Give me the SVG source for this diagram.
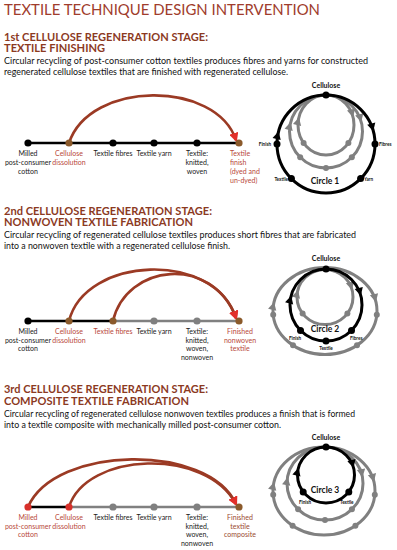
<svg xmlns="http://www.w3.org/2000/svg" xmlns:xlink="http://www.w3.org/1999/xlink" width="397" height="550" viewBox="0 0 397 550">
<style>
text{font-family:Lato,"Open Sans","Liberation Sans",sans-serif}
.title{font-size:15px;fill:#a03c2c;font-weight:400}
.head{font-size:10.5px;fill:#8c3a1f;font-weight:700}
.body{font-size:9px;fill:#111}
.lab{font-size:7px;fill:#1a1a1a;text-anchor:middle}
.red{fill:#b8483a}
.brn{fill:#9a4a30}
.cl{font-size:7px;font-weight:700;fill:#111;text-anchor:middle}
.ct{font-size:8.5px;font-weight:700;fill:#111;text-anchor:middle}
.nl{font-size:4.6px;font-weight:700;fill:#111}
.tl{stroke-width:2.6;fill:none}
.k{stroke:#000}
.g{stroke:#808080}
.arc{stroke:#9b3a24;stroke-width:2.6;fill:none;marker-end:url(#ah)}
.dk{fill:#000}
.dg{fill:#808080}
.db{fill:#8b5a2b}
.dr{fill:#d8302a}
.ck{stroke:#000;stroke-width:3;fill:none}
.cg{stroke:#808080;stroke-width:3;fill:none}
</style>
<defs>
<marker id="ah" markerWidth="3.6" markerHeight="3.6" refX="4.5" refY="3" orient="auto" markerUnits="strokeWidth" viewBox="0 0 6 6">
<path d="M0,0 L6,3 L0,6 Z" fill="#e2302a"/>
</marker>
<path id="tri" d="M0,0 L-8,-4.2 L-8,4.2 Z"/>
</defs>

<text class="title" x="4" y="15" textLength="316" lengthAdjust="spacingAndGlyphs">TEXTILE TECHNIQUE DESIGN INTERVENTION</text>

<!-- Section 1 -->
<g id="section1-text">
<text class="head" x="4" y="41" textLength="204" lengthAdjust="spacingAndGlyphs">1st CELLULOSE REGENERATION STAGE:</text>
<text class="head" x="4" y="52" textLength="101" lengthAdjust="spacingAndGlyphs">TEXTILE FINISHING</text>
<text class="body" x="4" y="64" textLength="364" lengthAdjust="spacingAndGlyphs">Circular recycling of post-consumer cotton textiles produces fibres and yarns for constructed</text>
<text class="body" x="4" y="75" textLength="284" lengthAdjust="spacingAndGlyphs">regenerated cellulose textiles that are finished with regenerated cellulose.</text>
</g>

<g id="connectors">
<!-- timeline 1 -->
<line class="tl k" x1="28" y1="143" x2="239" y2="143"/>
<path class="arc" d="M69,143 C 90,80 216,80 236,140"/>
<!-- timeline 2 -->
<line class="tl k" x1="28" y1="321" x2="113" y2="321"/>
<line class="tl g" x1="113" y1="321" x2="239" y2="321"/>
<path class="arc" d="M69,321 C 85,256 214,250 236,318"/>
<path class="arc" d="M113,321 C 126,264 212,254 236,318"/>
<!-- timeline 3 -->
<line class="tl k" x1="28" y1="507" x2="69" y2="507"/>
<line class="tl g" x1="69" y1="507" x2="239" y2="507"/>
<path class="arc" d="M28,507 C 55,445 208,443 236,504"/>
<path class="arc" d="M69,507 C 86,452 206,447 236,504"/>
</g>

<!-- timeline 1 nodes -->
<g id="t1-milled"><circle class="dk" cx="28" cy="143" r="3.6"/><text class="lab" x="28" y="156">Milled</text><text class="lab" x="28" y="165">post-consumer</text><text class="lab" x="28" y="174">cotton</text></g>
<g id="t1-dissolution"><circle class="db" cx="69" cy="143" r="3.6"/><text class="lab red" x="69" y="156">Cellulose</text><text class="lab red" x="69" y="165">dissolution</text></g>
<g id="t1-fibres"><circle class="dk" cx="113" cy="143" r="3.6"/><text class="lab" x="113" y="156">Textile fibres</text></g>
<g id="t1-yarn"><circle class="dk" cx="154" cy="143" r="3.6"/><text class="lab" x="154" y="156">Textile yarn</text></g>
<g id="t1-textile"><circle class="dk" cx="197" cy="143" r="3.6"/><text class="lab" x="197" y="156">Textile:</text><text class="lab" x="197" y="165">knitted,</text><text class="lab" x="197" y="174">woven</text></g>
<g id="t1-finish"><circle class="db" cx="239" cy="143" r="3.6"/><text class="lab red" style="text-anchor:start" x="230" y="156">Textile</text><text class="lab red" style="text-anchor:start" x="230" y="165">finish</text><text class="lab red" style="text-anchor:start" x="230" y="174">(dyed and</text><text class="lab red" style="text-anchor:start" x="230" y="183">un-dyed)</text></g>

<!-- Circle 1 panel -->
<g id="circle1">
<ellipse class="cg" cx="326" cy="131.5" rx="36.5" ry="36.5"/>
<ellipse class="cg" cx="326" cy="125" rx="28" ry="30"/>
<use href="#tri" fill="#808080" transform="translate(361.3,122.1) rotate(75)"/>
<use href="#tri" fill="#808080" transform="translate(290.7,122.1) rotate(-75)"/>
<use href="#tri" fill="#808080" transform="translate(353,117.2) rotate(76)"/>
<use href="#tri" fill="#808080" transform="translate(299,117.2) rotate(-76)"/>
<circle class="dg" cx="351.8" cy="157.3" r="3"/><circle class="dg" cx="326" cy="168" r="3"/><circle class="dg" cx="300.2" cy="157.3" r="3"/>
<circle class="dg" cx="348.4" cy="143.1" r="3"/><circle class="dg" cx="303.6" cy="143.1" r="3"/>
<circle class="ck" cx="326" cy="144" r="49"/>
<use href="#tri" fill="#000" transform="translate(373.3,131.3) rotate(75)"/>
<use href="#tri" fill="#000" transform="translate(278.7,131.3) rotate(-75)"/>
<circle class="dk" cx="326" cy="95" r="3.5"/><circle class="dk" cx="375" cy="144" r="3.5"/><circle class="dk" cx="360.6" cy="178.6" r="3.5"/><circle class="dk" cx="291.4" cy="178.6" r="3.5"/><circle class="dk" cx="277" cy="144" r="3.5"/>
<text class="cl" x="326" y="88">Cellulose</text>
<text class="ct" x="325" y="184">Circle 1</text>
<text class="nl" x="271" y="146" text-anchor="end">Finish</text>
<text class="nl" x="379" y="146">Fibres</text>
<text class="nl" x="288" y="181" text-anchor="end">Textile</text>
<text class="nl" x="364" y="181">Yarn</text>
</g>

<!-- Section 2 -->
<g id="section2-text">
<text class="head" x="4" y="215" textLength="208" lengthAdjust="spacingAndGlyphs">2nd CELLULOSE REGENERATION STAGE:</text>
<text class="head" x="4" y="226" textLength="189" lengthAdjust="spacingAndGlyphs">NONWOVEN TEXTILE FABRICATION</text>
<text class="body" x="4" y="238" textLength="352" lengthAdjust="spacingAndGlyphs">Circular recycling of regenerated cellulose textiles produces short fibres that are fabricated</text>
<text class="body" x="4" y="249" textLength="226" lengthAdjust="spacingAndGlyphs">into a nonwoven textile with a regenerated cellulose finish.</text>
</g>

<g id="t2-milled"><circle class="dk" cx="28" cy="321" r="3.6"/><text class="lab" x="28" y="334">Milled</text><text class="lab" x="28" y="342.5">post-consumer</text><text class="lab" x="28" y="351">cotton</text></g>
<g id="t2-dissolution"><circle class="db" cx="69" cy="321" r="3.6"/><text class="lab red" x="69" y="334">Cellulose</text><text class="lab red" x="69" y="342.5">dissolution</text></g>
<g id="t2-fibres"><circle class="db" cx="113" cy="321" r="3.6"/><text class="lab red" x="113" y="334">Textile fibres</text></g>
<g id="t2-yarn"><circle class="dg" cx="154" cy="321" r="3.6"/><text class="lab" x="154" y="334">Textile yarn</text></g>
<g id="t2-textile"><circle class="dg" cx="197" cy="321" r="3.6"/><text class="lab" x="197" y="334">Textile:</text><text class="lab" x="197" y="342.5">knitted,</text><text class="lab" x="197" y="351">woven,</text><text class="lab" x="197" y="359.5">nonwoven</text></g>
<g id="t2-finished"><circle class="db" cx="239" cy="321" r="3.6"/><text class="lab red" x="240" y="334">Finished</text><text class="lab red" x="240" y="342.5">nonwoven</text><text class="lab red" x="240" y="351">textile</text></g>

<g id="circle2">
<ellipse class="cg" cx="325" cy="311" rx="52" ry="43.5"/>
<ellipse class="cg" cx="325" cy="297" rx="28" ry="27.5"/>
<use href="#tri" fill="#808080" transform="translate(375.9,302) rotate(76)"/>
<use href="#tri" fill="#808080" transform="translate(274.1,302) rotate(-76)"/>
<use href="#tri" fill="#808080" transform="translate(352,289.9) rotate(75)"/>
<use href="#tri" fill="#808080" transform="translate(298,289.9) rotate(-75)"/>
<circle class="dg" cx="376.8" cy="314.8" r="3"/><circle class="dg" cx="273.2" cy="314.8" r="3"/><circle class="dg" cx="357" cy="345.3" r="3"/><circle class="dg" cx="293" cy="345.3" r="3"/>
<circle class="dg" cx="347.4" cy="313.6" r="3"/><circle class="dg" cx="302.6" cy="313.6" r="3"/>
<circle class="ck" cx="326" cy="305" r="36"/>
<use href="#tri" fill="#000" transform="translate(360.8,295.7) rotate(75)"/>
<use href="#tri" fill="#000" transform="translate(291.2,295.7) rotate(-75)"/>
<circle class="dk" cx="326" cy="269" r="3.5"/><circle class="dk" cx="351.5" cy="330.5" r="3.5"/><circle class="dk" cx="326" cy="341" r="3.5"/><circle class="dk" cx="300.5" cy="330.5" r="3.5"/>
<text class="cl" x="326" y="261">Cellulose</text>
<text class="ct" x="325" y="332">Circle 2</text>
<text class="nl" x="289" y="340">Finish</text>
<text class="nl" x="326" y="350" text-anchor="middle">Textile</text>
<text class="nl" x="350" y="340">Fibres</text>
</g>

<!-- Section 3 -->
<g id="section3-text">
<text class="head" x="4" y="393" textLength="204" lengthAdjust="spacingAndGlyphs">3rd CELLULOSE REGENERATION STAGE:</text>
<text class="head" x="4" y="405" textLength="185" lengthAdjust="spacingAndGlyphs">COMPOSITE TEXTILE FABRICATION</text>
<text class="body" x="4" y="417" textLength="351" lengthAdjust="spacingAndGlyphs">Circular recycling of regenerated cellulose nonwoven textiles produces a finish that is formed</text>
<text class="body" x="4" y="428" textLength="277" lengthAdjust="spacingAndGlyphs">into a textile composite with mechanically milled post-consumer cotton.</text>
</g>

<g id="t3-milled"><circle class="dr" cx="28" cy="507" r="3.6"/><text class="lab red" x="28" y="520">Milled</text><text class="lab red" x="28" y="528.5">post-consumer</text><text class="lab red" x="28" y="537">cotton</text></g>
<g id="t3-dissolution"><circle class="dr" cx="69" cy="507" r="3.6"/><text class="lab red" x="69" y="520">Cellulose</text><text class="lab red" x="69" y="528.5">dissolution</text></g>
<g id="t3-fibres"><circle class="dg" cx="113" cy="507" r="3.6"/><text class="lab" x="113" y="520">Textile fibres</text></g>
<g id="t3-yarn"><circle class="dg" cx="154" cy="507" r="3.6"/><text class="lab" x="154" y="520">Textile yarn</text></g>
<g id="t3-textile"><circle class="dg" cx="197" cy="507" r="3.6"/><text class="lab" x="197" y="520">Textile:</text><text class="lab" x="197" y="528.5">knitted,</text><text class="lab" x="197" y="537">woven,</text><text class="lab" x="197" y="545.5">nonwoven</text></g>
<g id="t3-finished"><circle class="db" cx="239" cy="507" r="3.6"/><text class="lab brn" x="240" y="520">Finished</text><text class="lab brn" x="240" y="528.5">textile</text><text class="lab brn" x="240" y="537">composite</text></g>

<g id="circle3">
<ellipse class="cg" cx="324" cy="491" rx="51" ry="44"/>
<ellipse class="cg" cx="325" cy="483.5" rx="38" ry="36.5"/>
<use href="#tri" fill="#808080" transform="translate(373.9,481.9) rotate(76)"/>
<use href="#tri" fill="#808080" transform="translate(274.1,481.9) rotate(-76)"/>
<use href="#tri" fill="#808080" transform="translate(362.4,477.2) rotate(80)"/>
<use href="#tri" fill="#808080" transform="translate(287.6,477.2) rotate(-80)"/>
<circle class="dg" cx="374.8" cy="494.8" r="3"/><circle class="dg" cx="273.2" cy="494.8" r="3"/><circle class="dg" cx="355.4" cy="525.7" r="3"/><circle class="dg" cx="292.6" cy="525.7" r="3"/>
<circle class="dg" cx="351.9" cy="509.3" r="3"/><circle class="dg" cx="325" cy="520" r="3"/><circle class="dg" cx="298.1" cy="509.3" r="3"/>
<ellipse class="ck" cx="326" cy="475" rx="28.5" ry="28"/>
<use href="#tri" fill="#000" transform="translate(353.5,467.8) rotate(75)"/>
<use href="#tri" fill="#000" transform="translate(298.5,467.8) rotate(-75)"/>
<circle class="dk" cx="326" cy="447" r="3.5"/><circle class="dk" cx="348.8" cy="491.9" r="3.5"/><circle class="dk" cx="303.2" cy="491.9" r="3.5"/>
<text class="cl" x="326" y="440">Cellulose</text>
<text class="ct" x="325" y="493">Circle 3</text>
<text class="nl" x="299" y="504">Finish</text>
<text class="nl" x="340" y="504">Textile</text>
</g>
</svg>
